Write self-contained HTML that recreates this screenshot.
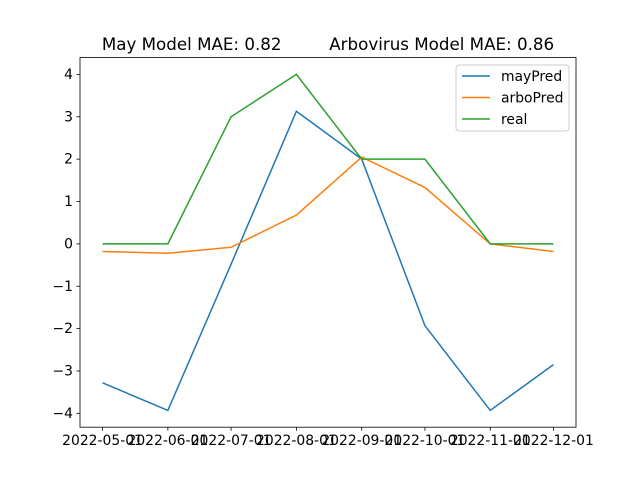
<!DOCTYPE html>
<html><head><meta charset="utf-8"><style>
body{margin:0;background:#fff;}
svg{font-family:"DejaVu Sans","Liberation Sans",sans-serif;}
</style></head><body>
<svg id="chart" width="640" height="480" xmlns="http://www.w3.org/2000/svg">
<rect width="640" height="480" fill="#fff"/>
<text x="328" y="50" text-anchor="middle" font-size="16.7" xml:space="preserve">May Model MAE: 0.82         Arbovirus Model MAE: 0.86</text>
<g id="plot"></g>
</svg>
<script>
const dates = ["2022-05-01","2022-06-01","2022-07-01","2022-08-01","2022-09-01","2022-10-01","2022-11-01","2022-12-01"];
const mayPred = [-3.28,-3.93,-0.48,3.13,2.0,-1.93,-3.93,-2.85];
const arboPred = [-0.18,-0.22,-0.08,0.68,2.05,1.33,0.0,-0.18];
const real = [0,0,3,4,2,2,0,0];
const yTicks = [-4,-3,-2,-1,0,1,2,3,4];
const seriesNames = ["mayPred","arboPred","real"];
const colors = ["#1f77b4","#ff7f0e","#2ca02c"];

const L=80,R=576,T=57.6,B=427.2;
const t0=Date.parse(dates[0]), t1=Date.parse(dates[dates.length-1]);
const pad=(t1-t0)*0.05;
const xs=d=>L+(Date.parse(d)-(t0-pad))/((t1-t0)+2*pad)*(R-L);
const all=mayPred.concat(arboPred,real);
const ymin=Math.min(...all), ymax=Math.max(...all), yp=(ymax-ymin)*0.05;
const ys=v=>B-(v-(ymin-yp))/((ymax-ymin)+2*yp)*(B-T);
const g=document.getElementById('plot');
const NS="http://www.w3.org/2000/svg";
function mk(tag,attrs){const e=document.createElementNS(NS,tag);for(const k in attrs)e.setAttribute(k,attrs[k]);g.appendChild(e);return e;}

[mayPred,arboPred,real].forEach((s,i)=>{
  const p=mk('polyline',{points:s.map((v,j)=>xs(dates[j])+','+ys(v)).join(' '),fill:'none',stroke:colors[i],'stroke-width':1.5});
  
  
});
const frame=mk('rect',{x:L,y:T,width:R-L,height:B-T,fill:'none',stroke:'#000','stroke-width':0.8});


yTicks.forEach(v=>{
  const y=ys(v);
  const tk=mk('line',{x1:L-3.5,x2:L,y1:y,y2:y,stroke:'#000','stroke-width':0.8});
  
  
  const t=mk('text',{x:L-7,y:y+4.5,'text-anchor':'end','font-size':13.9});
  t.textContent=v<0?'\u2212'+(-v):String(v);
  
  
});
dates.forEach(d=>{
  const x=xs(d);
  const tk=mk('line',{x1:x,x2:x,y1:B,y2:B+3.5,stroke:'#000','stroke-width':0.8});
  
  
  const t=mk('text',{x:x,y:B+18,'text-anchor':'middle','font-size':13.9});
  t.textContent=d;
  
  
});
const lg=mk('rect',{x:456,y:65,width:113,height:66,rx:3,fill:'#fff','fill-opacity':0.8,stroke:'#ccc','stroke-width':1});


seriesNames.forEach((n,i)=>{
  const y=76+i*21.5;
  const l=mk('line',{x1:462,x2:490,y1:y,y2:y,stroke:colors[i],'stroke-width':1.5});
  
  
  const t=mk('text',{x:501,y:y+5,'font-size':13.9});
  t.textContent=n;
  
  
});
</script>
</body></html>
